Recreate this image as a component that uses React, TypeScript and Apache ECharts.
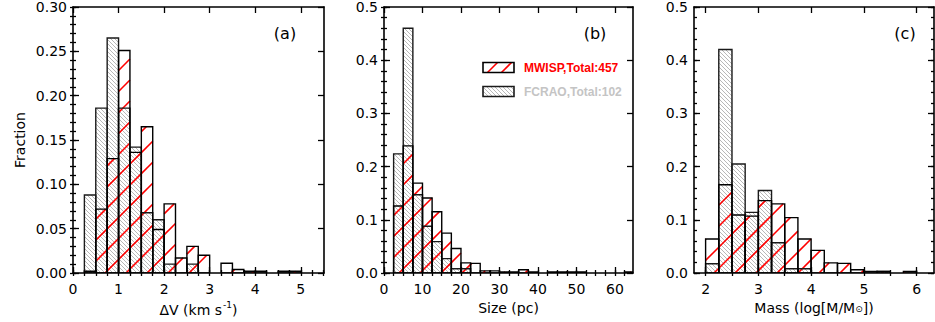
import React, { useEffect, useRef } from 'react';
import * as echarts from 'echarts';

// ---------- data ----------
// Panel (a): velocity dispersion ΔV (km s^-1), bin width 0.25
const aBinStart = [0.25, 0.5, 0.75, 1.0, 1.25, 1.5, 1.75, 2.0, 2.25, 2.5, 2.75, 3.0, 3.25, 3.5, 3.75, 4.0, 4.25, 4.5, 4.75];
const aBinWidth = 0.25;
const aMWISP = [0.002, 0.072, 0.129, 0.251, 0.136, 0.165, 0.049, 0.078, 0.017, 0.030, 0.020, 0, 0.011, 0.004, 0.002, 0.002, 0, 0.002, 0.002];
const aFCRAO = [0.088, 0.186, 0.265, 0.186, 0.142, 0.068, 0.060, 0.010, 0, 0.010, 0, 0, 0, 0, 0, 0, 0, 0, 0];

// Panel (b): size (pc), bin width 2.5
const bBinStart = [2.5, 5, 7.5, 10, 12.5, 15, 17.5, 20, 22.5, 25, 27.5, 30, 32.5, 35, 37.5, 40, 42.5, 45, 47.5, 50, 52.5, 55, 57.5, 60, 62.5];
const bBinWidth = 2.5;
const bMWISP = [0.126, 0.239, 0.169, 0.141, 0.115, 0.075, 0.046, 0.019, 0.018, 0.004, 0.004, 0.002, 0.002, 0.006, 0.002, 0, 0.002, 0.002, 0.002, 0.002, 0, 0, 0, 0, 0.002];
const bFCRAO = [0.224, 0.460, 0.147, 0.088, 0.059, 0.027, 0.008, 0.008, 0, 0, 0, 0, 0, 0, 0, 0, 0, 0, 0, 0, 0, 0, 0, 0, 0];

// Panel (c): mass log(M/Msun), bin width 0.25
const cBinStart = [2.0, 2.25, 2.5, 2.75, 3.0, 3.25, 3.5, 3.75, 4.0, 4.25, 4.5, 4.75, 5.0, 5.25, 5.5, 5.75];
const cBinWidth = 0.25;
const cMWISP = [0.064, 0.166, 0.109, 0.107, 0.136, 0.130, 0.104, 0.064, 0.0425, 0.019, 0.018, 0.006, 0.003, 0.003, 0, 0.003];
const cFCRAO = [0.0175, 0.420, 0.205, 0.114, 0.155, 0.057, 0.008, 0.008, 0, 0, 0, 0, 0, 0.003, 0, 0];

// tick labels
const aXTicks = [0, 1, 2, 3, 4, 5];
const bXTicks = [0, 10, 20, 30, 40, 50, 60];
const cXTicks = [2, 3, 4, 5, 6];
const aYTicks = [0, 0.05, 0.1, 0.15, 0.2, 0.25, 0.3];
const bcYTicks = [0, 0.1, 0.2, 0.3, 0.4, 0.5];

const legendNames = ['MWISP,Total:457', 'FCRAO,Total:102'];
const panelLabels = ['(a)', '(b)', '(c)'];
const xNames = ['{t|ΔV (km s}{s|-1}{t|)}', 'Size (pc)', '{t|Mass (log[M/M}{b|⊙}{t|])}'];

// ---------- style ----------
const FONT = 'DejaVu Sans';
const RED = '#ff0000';
const GRAY = '#b8b8b8';
const RED_PERIOD = 21;
const GRAY_PERIOD = 4;

function hatch(x0: number, y0: number, x1: number, y1: number, dir: '/' | '\\', period: number, stroke: string, lw: number) {
  const out: any[] = [];
  if (dir === '/') {
    const kmin = Math.ceil((y0 + x0) / period), kmax = Math.floor((y1 + x1) / period);
    for (let k = kmin; k <= kmax; k++) {
      const c = k * period;
      const xa = Math.max(x0, c - y1), xb = Math.min(x1, c - y0);
      if (xb > xa + 0.2) out.push({ type: 'line', silent: true, shape: { x1: xa, y1: c - xa, x2: xb, y2: c - xb }, style: { stroke, lineWidth: lw } });
    }
  } else {
    const kmin = Math.ceil((y0 - x1) / period), kmax = Math.floor((y1 - x0) / period);
    for (let k = kmin; k <= kmax; k++) {
      const c = k * period;
      const xa = Math.max(x0, y0 - c), xb = Math.min(x1, y1 - c);
      if (xb > xa + 0.2) out.push({ type: 'line', silent: true, shape: { x1: xa, y1: xa + c, x2: xb, y2: xb + c }, style: { stroke, lineWidth: lw } });
    }
  }
  return out;
}

function rectFromApi(api: any) {
  const p0 = api.coord([api.value(0), 0]);
  const p1 = api.coord([api.value(1), api.value(2)]);
  return { x0: p0[0], x1: p1[0], yTop: p1[1], yBot: p0[1] };
}

function hatchSeries(name: string, gi: number, starts: number[], w: number, vals: number[], kind: 'red' | 'gray') {
  return {
    type: 'custom', name, xAxisIndex: gi * 4, yAxisIndex: gi * 4, z: 2, clip: true, silent: true,
    data: starts.map((s, j) => [s, s + w, vals[j]]),
    encode: { x: [0, 1], y: 2 },
    renderItem: (params: any, api: any) => {
      if (!(api.value(2) > 0)) return { type: 'group', children: [] };
      const r = rectFromApi(api);
      const children = kind === 'red'
        ? hatch(r.x0, r.yTop, r.x1, r.yBot, '/', RED_PERIOD, RED, 1.6)
        : hatch(r.x0, r.yTop, r.x1, r.yBot, '\\', GRAY_PERIOD, GRAY, 1);
      return { type: 'group', children };
    },
  };
}

function outlineSeries(name: string, gi: number, starts: number[], w: number, vals: number[], color: string) {
  return {
    type: 'custom', name: name + ' outline', xAxisIndex: gi * 4, yAxisIndex: gi * 4, z: 3, clip: true, silent: true,
    data: starts.map((s, j) => [s, s + w, vals[j]]),
    encode: { x: [0, 1], y: 2 },
    renderItem: (params: any, api: any) => {
      if (!(api.value(2) > 0)) return { type: 'group', children: [] };
      const r = rectFromApi(api);
      return {
        type: 'rect', silent: true,
        shape: { x: r.x0, y: r.yTop, width: r.x1 - r.x0, height: r.yBot - r.yTop },
        style: { fill: 'none', stroke: color, lineWidth: 1.4 },
      };
    },
  };
}

function range(min: number, max: number, step: number) {
  const out: number[] = [];
  const n = Math.round((max - min) / step);
  for (let i = 0; i <= n; i++) out.push(+(min + i * step).toFixed(6));
  return out;
}

function makeAxes(gi: number, dim: 'x' | 'y', min: number, max: number, majors: number[], minors: number[], fmt: (v: number) => string, name?: string, nameGap?: number) {
  const posA = dim === 'x' ? 'bottom' : 'left';
  const posB = dim === 'x' ? 'top' : 'right';
  const base = { type: 'value', gridIndex: gi, min, max, splitLine: { show: false }, scale: false };
  const line = { show: true, onZero: false, lineStyle: { color: '#000', width: 1.6 } };
  const noLine = { show: false };
  const majTick = { show: true, inside: true, length: 6, customValues: majors, lineStyle: { color: '#000', width: 1.3 } };
  const minTick = { show: true, inside: true, length: 3, customValues: minors, lineStyle: { color: '#000', width: 1.3 } };
  const label = {
    show: true, customValues: majors, formatter: fmt, color: '#000', fontFamily: FONT, fontSize: 14,
    margin: dim === 'x' ? 9 : 6, showMinLabel: true, showMaxLabel: true,
  };
  const main: any = { ...base, position: posA, axisLine: line, axisTick: majTick, axisLabel: label };
  if (name) {
    main.name = name;
    main.nameLocation = 'middle';
    main.nameGap = nameGap;
    main.nameTextStyle = {
      color: '#000', fontFamily: FONT, fontSize: 14,
      rich: {
        t: { fontFamily: FONT, fontSize: 14, color: '#000' },
        s: { fontFamily: FONT, fontSize: 9, color: '#000', padding: [0, 0, 9, 1] },
        b: { fontFamily: FONT, fontSize: 9, color: '#000', padding: [0, 0, -3, 0] },
      },
    };
  }
  return [
    main,
    { ...base, position: posA, axisLine: noLine, axisTick: minTick, axisLabel: { show: false } },
    { ...base, position: posB, axisLine: line, axisTick: majTick, axisLabel: { show: false } },
    { ...base, position: posB, axisLine: noLine, axisTick: minTick, axisLabel: { show: false } },
  ];
}

export default function App() {
  const ref = useRef<HTMLDivElement>(null);
  useEffect(() => {
    const chart = echarts.init(ref.current!, undefined, { renderer: 'svg' });

    const grids = [
      { left: 73, top: 6, width: 251, height: 267 },
      { left: 384, top: 6, width: 249, height: 267 },
      { left: 694, top: 6, width: 240, height: 267 },
    ];

    const f2 = (v: number) => v.toFixed(2);
    const f1 = (v: number) => v.toFixed(1);
    const f0 = (v: number) => String(Math.round(v));

    const xAxes = [
      ...makeAxes(0, 'x', 0, 5.51, aXTicks, range(0, 5.5, 0.25), f0, xNames[0], 26),
      ...makeAxes(1, 'x', 0, 64.7, bXTicks, range(0, 62.5, 2.5), f0, xNames[1], 26),
      ...makeAxes(2, 'x', 1.78, 6.33, cXTicks, range(2, 6, 0.5), f0, xNames[2], 26),
    ];
    const yAxes = [
      ...makeAxes(0, 'y', 0, 0.3, aYTicks, range(0, 0.3, 0.01), f2, 'Fraction', 46),
      ...makeAxes(1, 'y', 0, 0.5, bcYTicks, range(0, 0.5, 0.02), f1),
      ...makeAxes(2, 'y', 0, 0.5, bcYTicks, range(0, 0.5, 0.02), f1),
    ];

    const panels = [
      { s: aBinStart, w: aBinWidth, m: aMWISP, f: aFCRAO },
      { s: bBinStart, w: bBinWidth, m: bMWISP, f: bFCRAO },
      { s: cBinStart, w: cBinWidth, m: cMWISP, f: cFCRAO },
    ];
    const series: any[] = [];
    panels.forEach((p, gi) => {
      series.push(hatchSeries(legendNames[1], gi, p.s, p.w, p.f, 'gray'));
      series.push(hatchSeries(legendNames[0], gi, p.s, p.w, p.m, 'red'));
      series.push(outlineSeries(legendNames[1], gi, p.s, p.w, p.f, '#1a1a1a'));
      series.push(outlineSeries(legendNames[0], gi, p.s, p.w, p.m, '#000'));
    });

    // legend (drawn as graphic, with hatched swatches)
    const lx = 483, lw = 31, lh = 10, ly1 = 62.5, ly2 = 86.5;
    const LFONT = 'Liberation Sans';
    const legendGraphic: any[] = [
      ...hatch(lx, ly1, lx + lw, ly1 + lh, '/', 14, RED, 1.6),
      { type: 'rect', shape: { x: lx, y: ly1, width: lw, height: lh }, style: { fill: 'none', stroke: '#000', lineWidth: 1.6 } },
      ...hatch(lx, ly2, lx + lw, ly2 + lh, '\\', GRAY_PERIOD, GRAY, 1),
      { type: 'rect', shape: { x: lx, y: ly2, width: lw, height: lh }, style: { fill: 'none', stroke: '#1a1a1a', lineWidth: 1.6 } },
      { type: 'text', x: 524, y: ly1 + lh / 2, style: { text: legendNames[0], fill: RED, font: `bold 12px "${LFONT}"`, textAlign: 'left', textVerticalAlign: 'middle' } },
      { type: 'text', x: 524, y: ly2 + lh / 2, style: { text: legendNames[1], fill: '#c4c4c4', font: `bold 12px "${LFONT}"`, textAlign: 'left', textVerticalAlign: 'middle' } },
    ];
    const labelX = [285, 595, 905];
    panelLabels.forEach((t, i) => {
      legendGraphic.push({ type: 'text', x: labelX[i], y: 33, style: { text: t, fill: '#000', font: `16px "${FONT}"`, textAlign: 'center', textVerticalAlign: 'middle' } });
    });

    chart.setOption({
      animation: false,
      backgroundColor: '#fff',
      grid: grids,
      xAxis: xAxes,
      yAxis: yAxes,
      series,
      graphic: legendGraphic,
    });
    return () => chart.dispose();
  }, []);
  return <div ref={ref} style={{ position: 'absolute', left: 0, top: 0, width: 935, height: 322 }} />;
}
